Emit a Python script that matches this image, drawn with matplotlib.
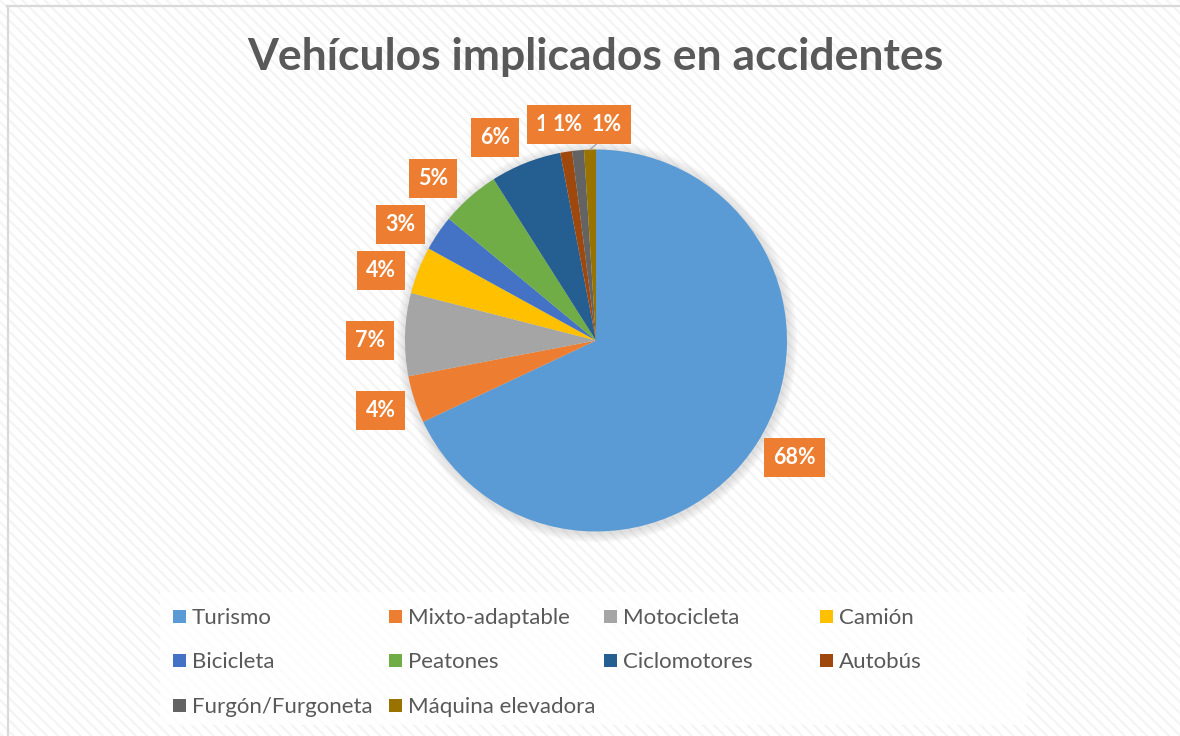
import numpy as np
import matplotlib
matplotlib.use("Agg")
import matplotlib.pyplot as plt
from matplotlib.patches import Rectangle, Circle
from matplotlib.lines import Line2D

# ---- data ----
categories = ["Turismo", "Mixto-adaptable", "Motocicleta", "Camión", "Bicicleta",
              "Peatones", "Ciclomotores", "Autobús", "Furgón/Furgoneta", "Máquina elevadora"]
values = [68, 4, 7, 4, 3, 5, 6, 1, 1, 1]
colors = ["#5B9BD5", "#ED7D31", "#A5A5A5", "#FFC000", "#4472C4",
          "#70AD47", "#255E91", "#9E480E", "#636363", "#997300"]
title = "Vehículos implicados en accidentes"

# label placement styling (radial distance, angle nudge in degrees)
label_dist = [1.208, 1.187, 1.183, 1.186, 1.19, 1.203, 1.185, 1.155, 1.14, 1.132]
label_nudge = [1.9, 0.1, 1.9, 3.6, 3.5, 3.8, 4.9, 2.8, 2.0, -4.7]

W, H = 1180, 736
plt.rcParams['font.family'] = ['Lato', 'DejaVu Sans']
fig = plt.figure(figsize=(W / 100, H / 100), dpi=100)
fig.patch.set_facecolor("white")

# hatched background
plt.rcParams['hatch.linewidth'] = 1.6
bg = Rectangle((0, 0), 1, 1, transform=fig.transFigure, facecolor="white",
               edgecolor="#f4f4f4", hatch="\\\\\\", linewidth=0, zorder=-10)
fig.patches.append(bg)

# border lines (top and left)
fig.lines.append(Line2D([7 / W, 1], [1 - 5.5 / H, 1 - 5.5 / H], transform=fig.transFigure,
                        color="#d9d9d9", linewidth=1.6))
fig.lines.append(Line2D([7.5 / W, 7.5 / W], [0, 1 - 5.5 / H], transform=fig.transFigure,
                        color="#d9d9d9", linewidth=1.6))

# title
fig.text(595 / W, 1 - 57 / H, title, ha="center", va="center", fontsize=32,
         fontweight="bold", color="#595959")

# pie axes
cx, cy, R = 596, 340.5, 191
half = 260
ax = fig.add_axes([(cx - half) / W, (H - cy - half) / H, 2 * half / W, 2 * half / H])
ax.axis("off")

# soft shadow
for k in range(1, 8):
    ax.add_patch(Circle((0.005, -0.008), 1 + k * 0.007, facecolor="#808080",
                        alpha=0.035, edgecolor="none", zorder=0))

wedges, _ = ax.pie(values, colors=colors, startangle=90, counterclock=False,
                   radius=1, wedgeprops=dict(linewidth=0, zorder=2))
for w in wedges:
    w.set_zorder(2)

lim = half / R
ax.set_xlim(-lim, lim)
ax.set_ylim(-lim, lim)
ax.set_aspect("equal")

for i, (w, v) in enumerate(zip(wedges, values)):
    mid = 0.5 * (w.theta1 + w.theta2) + label_nudge[i]
    a = np.deg2rad(mid)
    x, y = label_dist[i] * np.cos(a), label_dist[i] * np.sin(a)
    ax.text(x, y, f"{v}%", ha="center", va="center", fontsize=15.5, fontweight="bold",
            color="white", zorder=5 + i,
            bbox=dict(boxstyle="square,pad=0.42", facecolor="#ED7D31", edgecolor="none"))

# leader line for last slice
wl = wedges[-1]
am = np.deg2rad(0.5 * (wl.theta1 + wl.theta2))
ax.plot([np.cos(am) * 1.0, np.cos(np.deg2rad(88.0)) * 1.06],
        [np.sin(am) * 1.0, np.sin(np.deg2rad(88.0)) * 1.06],
        color="#a6a6a6", linewidth=1.0, zorder=3)

# legend box
fig.patches.append(Rectangle((160 / W, 1 - 725 / H), (1027 - 160) / W, (725 - 592) / H,
                             transform=fig.transFigure, facecolor="white", alpha=0.8,
                             edgecolor="none", zorder=-5))
x0, pitch_x, y0, pitch_y, sq = 173, 215.7, 616, 44.5, 13
for i, (name, c) in enumerate(zip(categories, colors)):
    r, col = divmod(i, 4)
    mx = x0 + col * pitch_x
    my = y0 + r * pitch_y
    fig.patches.append(Rectangle((mx / W, 1 - (my + sq / 2) / H), sq / W, sq / H,
                                 transform=fig.transFigure, facecolor=c, edgecolor="none"))
    fig.text((mx + sq + 6) / W, 1 - my / H, name, ha="left", va="center_baseline",
             fontsize=16, color="#595959")

fig.savefig("out.png", dpi=100)
